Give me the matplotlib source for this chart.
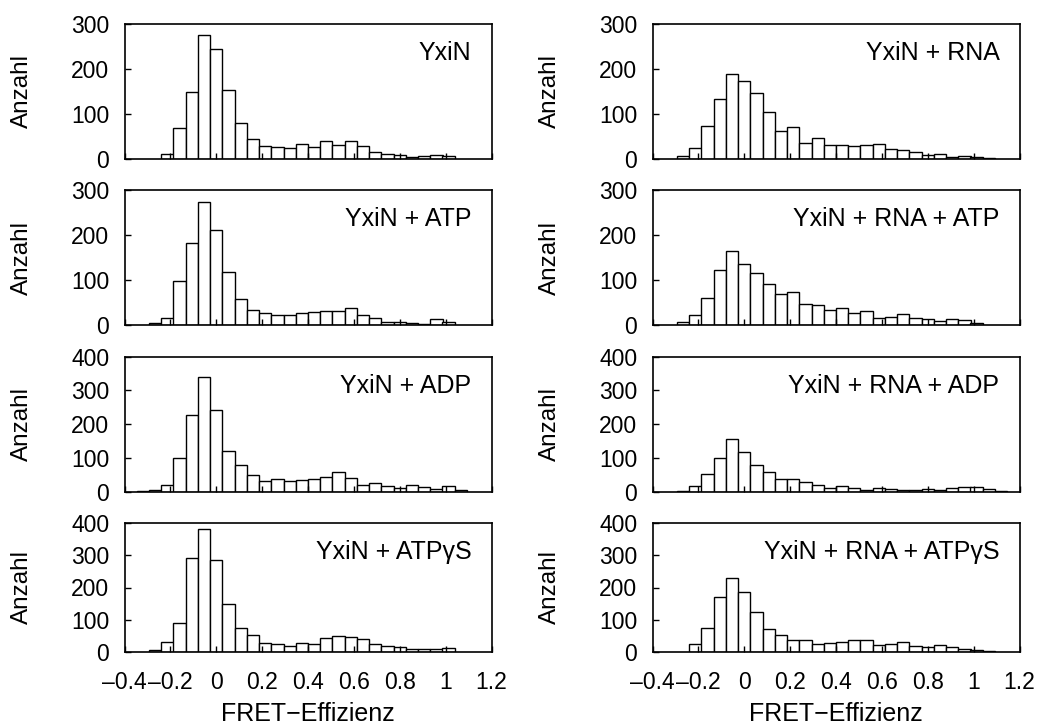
import matplotlib
matplotlib.use("Agg")
import matplotlib.pyplot as plt
import numpy as np

plt.rcParams['font.family'] = ['Liberation Sans', 'DejaVu Sans']

# shared histogram bin centres (FRET efficiency) and bin width
bin_centers = [-0.320, -0.267, -0.213, -0.160, -0.107, -0.053, 0.000, 0.053,
               0.107, 0.160, 0.213, 0.267, 0.320, 0.373, 0.427, 0.480,
               0.533, 0.587, 0.640, 0.693, 0.747, 0.800, 0.853, 0.907,
               0.960, 1.013, 1.067, 1.120]
bin_width = 0.0533

labels = ["YxiN", "YxiN + RNA",
          "YxiN + ATP", "YxiN + RNA + ATP",
          "YxiN + ADP", "YxiN + RNA + ADP",
          "YxiN + ATPγS", "YxiN + RNA + ATPγS"]

yxin = [0, 0, 11, 70, 150, 275, 244, 153, 80, 44, 28, 27, 24, 33, 27, 39, 31, 39,
        28, 16, 11, 8, 4, 7, 10, 7, 0, 0]
yxin_rna = [0, 7, 24, 73, 134, 190, 174, 146, 105, 62, 71, 35, 46, 32, 32, 28, 32,
            33, 22, 19, 16, 10, 11, 4, 7, 4, 3, 0]
yxin_atp = [0, 6, 16, 99, 182, 274, 211, 118, 58, 34, 27, 23, 23, 27, 30, 31, 32,
            38, 22, 16, 7, 7, 4, 2, 13, 7, 0, 0]
yxin_rna_atp = [0, 7, 23, 60, 123, 164, 135, 116, 91, 70, 73, 47, 44, 34, 39, 27,
                31, 17, 19, 24, 16, 14, 10, 14, 11, 4, 0, 0]
yxin_adp = [2, 5, 19, 101, 228, 340, 242, 121, 79, 50, 33, 37, 32, 35, 37, 44, 57,
            41, 21, 25, 16, 10, 19, 14, 7, 16, 4, 0]
yxin_rna_adp = [0, 3, 18, 51, 100, 155, 118, 78, 57, 37, 37, 30, 19, 12, 16, 12, 6,
                11, 8, 6, 6, 9, 6, 10, 13, 14, 9, 2]
yxin_atpgs = [0, 4, 29, 89, 292, 381, 285, 148, 75, 52, 26, 23, 19, 26, 23, 42, 48,
              47, 39, 23, 18, 14, 8, 9, 7, 10, 0, 0]
yxin_rna_atpgs = [0, 0, 25, 75, 170, 230, 187, 125, 72, 51, 37, 35, 25, 28, 29, 36,
                  35, 21, 23, 31, 17, 16, 20, 16, 7, 5, 3, 0]

series = [yxin, yxin_rna, yxin_atp, yxin_rna_atp,
          yxin_adp, yxin_rna_adp, yxin_atpgs, yxin_rna_atpgs]
ymax = [300, 300, 300, 300, 400, 400, 400, 400]

xticks = [-0.4, -0.2, 0, 0.2, 0.4, 0.6, 0.8, 1, 1.2]
xticklabels = ["–0.4", "–0.2", "0", "0.2", "0.4", "0.6", "0.8", "1", "1.2"]

W, H = 1042, 724
fig = plt.figure(figsize=(W / 100, H / 100), dpi=100)

col_left = [124.5, 652.5]
ax_w = 367.0
rows = [(24, 159), (190, 325.3), (356.7, 491.7), (523.3, 651.7)]

for i, (lab, vals, ym) in enumerate(zip(labels, series, ymax)):
    r, c = divmod(i, 2)
    top, bot = rows[r]
    ax = fig.add_axes([col_left[c] / W, 1 - bot / H, ax_w / W, (bot - top) / H])
    xs = [x for x, v in zip(bin_centers, vals) if v > 0]
    hs = [v for v in vals if v > 0]
    ax.bar(xs, hs, width=bin_width, color='white', edgecolor='black',
           linewidth=1.0, align='center')
    ax.set_xlim(-0.4, 1.2)
    ax.set_ylim(0, ym)
    ax.set_yticks(np.arange(0, ym + 1, 100))
    ax.set_xticks(xticks)
    if r == 3:
        ax.set_xticklabels(xticklabels)
    else:
        ax.set_xticklabels([])
    ax.tick_params(direction='in', length=4, width=1.0, labelsize=16.5,
                   top=False, right=False)
    ax.tick_params(axis='y', pad=11)
    ax.tick_params(axis='x', pad=14)
    for s in ax.spines.values():
        s.set_linewidth(1.2)
    ax.set_ylabel("Anzahl", fontsize=17.5)
    ax.yaxis.set_label_coords(-0.249, 0.5)
    ax.annotate(lab, xy=(1, 1), xycoords='axes fraction', xytext=(-20, -36),
                textcoords='offset pixels', ha='right', va='baseline', fontsize=18)
    if r == 3:
        fig.text((col_left[c] + ax_w / 2) / W, 1 - 720.7 / H, "FRET−Effizienz",
                 ha='center', va='baseline', fontsize=18)

fig.savefig("out.png", dpi=100)
